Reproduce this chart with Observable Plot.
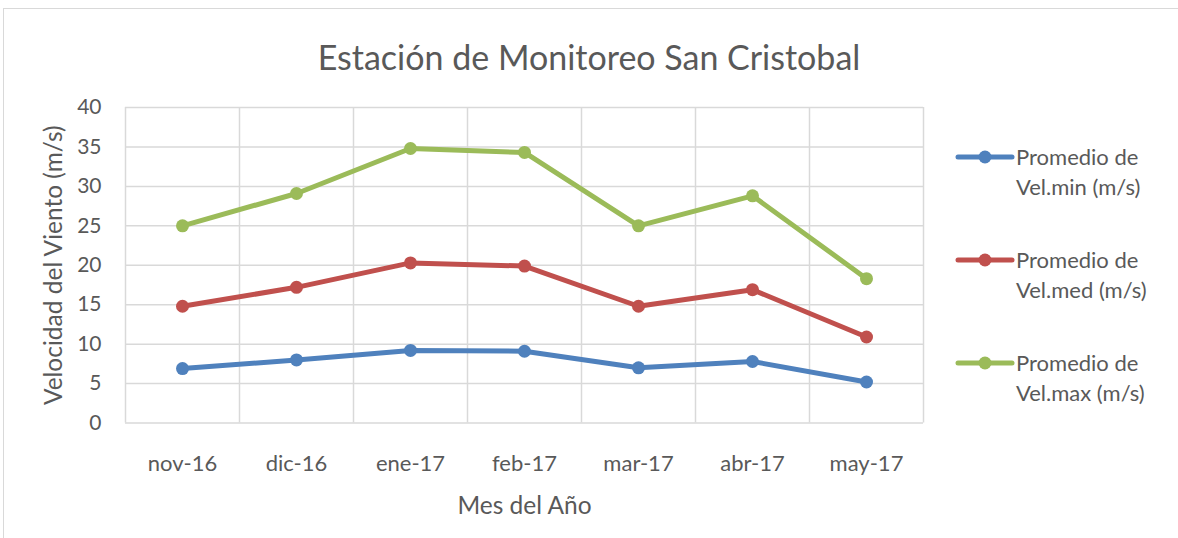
<!DOCTYPE html>
<html>
<head>
<meta charset="utf-8">
<script src="https://cdn.jsdelivr.net/npm/d3@7"></script>
<script src="https://cdn.jsdelivr.net/npm/@observablehq/plot@0.6"></script>
<style>
  body { margin: 0; background: #fff; font-family: Lato, "Open Sans", sans-serif; color: #595959; }
  #wrap { position: relative; width: 1178px; height: 538px; overflow: hidden; }
  #frame { position: absolute; left: 3px; top: 8px; width: 1200px; height: 600px; border-top: 1px solid #d9d9d9; border-left: 1px solid #d9d9d9; }
  #title { position: absolute; top: 36px; left: 0; width: 1178px; text-align: center; font-size: 34px; line-height: 42px; color: #595959; }
  #chart { position: absolute; left: 0; top: 90px; }
  #legend { position: absolute; left: 955px; top: 0; }
  .item { position: absolute; left: 0; width: 220px; }
  .item svg { position: absolute; left: 0; top: 0; }
  .item div { position: absolute; left: 61px; top: -15px; font-size: 22px; line-height: 30px; white-space: nowrap; color: #595959; }
</style>
</head>
<body>
<div id="wrap">
  <div id="frame"></div>
  <div id="title">Estación de Monitoreo San Cristobal</div>
  <div id="chart"></div>
  <div id="legend"></div>
</div>
<script>
const months = ["nov-16", "dic-16", "ene-17", "feb-17", "mar-17", "abr-17", "may-17"];
const velMin = [6.9, 8.0, 9.2, 9.1, 7.0, 7.8, 5.2];
const velMed = [14.8, 17.2, 20.3, 19.9, 14.8, 16.9, 10.9];
const velMax = [25.0, 29.1, 34.8, 34.3, 25.0, 28.8, 18.3];
const seriesNames = ["Promedio de Vel.min (m/s)", "Promedio de Vel.med (m/s)", "Promedio de Vel.max (m/s)"];
const seriesColors = ["#4F81BD", "#C0504D", "#9BBB59"];
const yTicks = [0, 5, 10, 15, 20, 25, 30, 35, 40];
const xTitle = "Mes del Año";
const yTitle = "Velocidad del Viento (m/s)";

const seriesValues = [velMin, velMed, velMax];
const rows = [];
seriesValues.forEach((vals, s) => vals.forEach((v, i) => rows.push({i, month: months[i], value: v, series: seriesNames[s]})));
const idx = months.map((_, i) => i);
const edges = months.map((_, i) => i - 0.5).concat([months.length - 0.5]);

const chart = Plot.plot({
  width: 940,
  height: 440,
  marginTop: 17,
  marginBottom: 107.5,
  marginLeft: 125,
  marginRight: 17,
  style: { fontFamily: "Lato, 'Open Sans', sans-serif", fontSize: "21px", color: "#595959", background: "transparent" },
  x: { domain: [-0.5, months.length - 0.5] },
  y: { domain: [0, 40] },
  color: { domain: seriesNames, range: seriesColors },
  marks: [
    Plot.ruleY(yTicks, { stroke: "#d9d9d9", strokeWidth: 1.5 }),
    Plot.ruleX(edges, { stroke: "#d9d9d9", strokeWidth: 1.5 }),
    Plot.axisX(idx, { tickFormat: (d) => months[d], tickSize: 0, tickPadding: 32, fontSize: 22, label: null }),
    Plot.axisY(yTicks, { tickSize: 0, tickPadding: 24, fontSize: 21, label: null }),
    Plot.text([xTitle], { frameAnchor: "bottom", dy: 83, fontSize: 24.5, fill: "#595959", lineAnchor: "middle", textAnchor: "middle" }),
    Plot.text([yTitle], { frameAnchor: "left", dx: -71, rotate: -90, fontSize: 24.5, fill: "#595959", lineAnchor: "middle", textAnchor: "middle" }),
    Plot.line(rows, { x: "i", y: "value", z: "series", stroke: "series", strokeWidth: 5, curve: "linear" }),
    Plot.dot(rows, { x: "i", y: "value", fill: "series", r: 6.5, stroke: null })
  ]
});
document.getElementById("chart").appendChild(chart);

// legend
const legendTops = [157, 260, 363];
const legend = document.getElementById("legend");
seriesNames.forEach((name, s) => {
  const item = document.createElement("div");
  item.className = "item";
  item.style.top = legendTops[s] + "px";
  const parts = name.split(" de ");
  item.innerHTML = `<svg width="60" height="14" style="top:-7px"><line x1="3" y1="7" x2="57" y2="7" stroke="${seriesColors[s]}" stroke-width="5" stroke-linecap="round"/><circle cx="30" cy="7" r="6.5" fill="${seriesColors[s]}"/></svg><div>${parts[0]} de<br>${parts[1]}</div>`;
  legend.appendChild(item);
});
</script>
</body>
</html>
